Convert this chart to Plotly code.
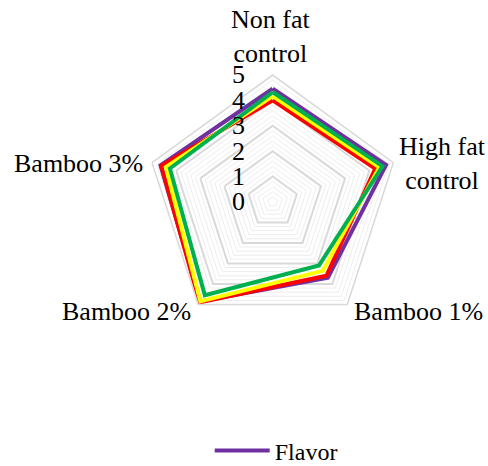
import plotly.graph_objects as go

categories = ['Non fat control', 'High fat control', 'Bamboo 1%', 'Bamboo 2%', 'Bamboo 3%']
label_text = ['Non fat<br>control', 'High fat<br>control', 'Bamboo 1%', 'Bamboo 2%', 'Bamboo 3%']

flavor = [4.46, 4.7, 3.7, 4.85, 4.65]
series_red = [4.0, 4.25, 3.6, 4.9, 4.62]
series_yellow = [4.17, 4.42, 3.36, 4.85, 4.43]
series_green = [4.33, 4.55, 3.1, 4.55, 4.26]

minor_levels = [i / 5 for i in range(1, 25) if i % 5 != 0]

# 类别标签位置（像素）
label_xy = [(270, 37), (442, 163), (418, 311), (126, 311), (78, 163)]

serif = 'Liberation Serif, Times New Roman, serif'
W, H = 488, 466

fig = go.Figure()

# 次网格线（每0.2一圈）
closed = categories + [categories[0]]
for lv in minor_levels:
    fig.add_trace(go.Scatterpolar(r=[lv] * len(closed), theta=closed, mode='lines',
                                  line=dict(color='#EDEDED', width=1),
                                  showlegend=False, hoverinfo='skip'))

def add_series(vals, name, color, show):
    fig.add_trace(go.Scatterpolar(r=vals + [vals[0]], theta=closed, mode='lines', name=name,
                                  line=dict(color=color, width=4), showlegend=show))

add_series(flavor, 'Flavor', '#7030A0', True)
add_series(series_red, 'Series 2', '#FF0000', False)
add_series(series_yellow, 'Series 3', '#FFFF00', False)
add_series(series_green, 'Series 4', '#00B050', False)

for txt, (px_, py_) in zip(label_text, label_xy):
    fig.add_annotation(text=txt, x=px_ / W, y=1 - py_ / H, xref='paper', yref='paper',
                       xanchor='center', yanchor='middle', showarrow=False,
                       font=dict(family=serif, size=26, color='black'))

fig.update_layout(
    width=W, height=H,
    margin=dict(l=0, r=0, t=0, b=0, autoexpand=False),
    paper_bgcolor='white',
    font=dict(family=serif, size=26, color='black'),
    polar=dict(
        domain=dict(x=[0.2986, 0.819], y=[0.2946, 0.839]),
        bgcolor='white',
        gridshape='linear',
        radialaxis=dict(range=[0, 5], dtick=1, angle=90, side='counterclockwise',
                        tickangle=90, showline=False, gridcolor='#D9D9D9', gridwidth=1.5,
                        ticks='outside', ticklen=18, tickcolor='rgba(0,0,0,0)',
                        tickfont=dict(family=serif, size=26, color='black')),
        angularaxis=dict(rotation=90, direction='clockwise', showgrid=False,
                         showline=True, linecolor='#D9D9D9', linewidth=1.5,
                         ticks='', showticklabels=False),
    ),
    legend=dict(orientation='h', x=0.566, xanchor='center', y=1 - 451 / H, yanchor='middle',
                itemwidth=55, font=dict(family=serif, size=24, color='black')),
)

fig.write_html("out.html", config={'displayModeBar': False},
               post_script="document.body.style.margin='0';")
